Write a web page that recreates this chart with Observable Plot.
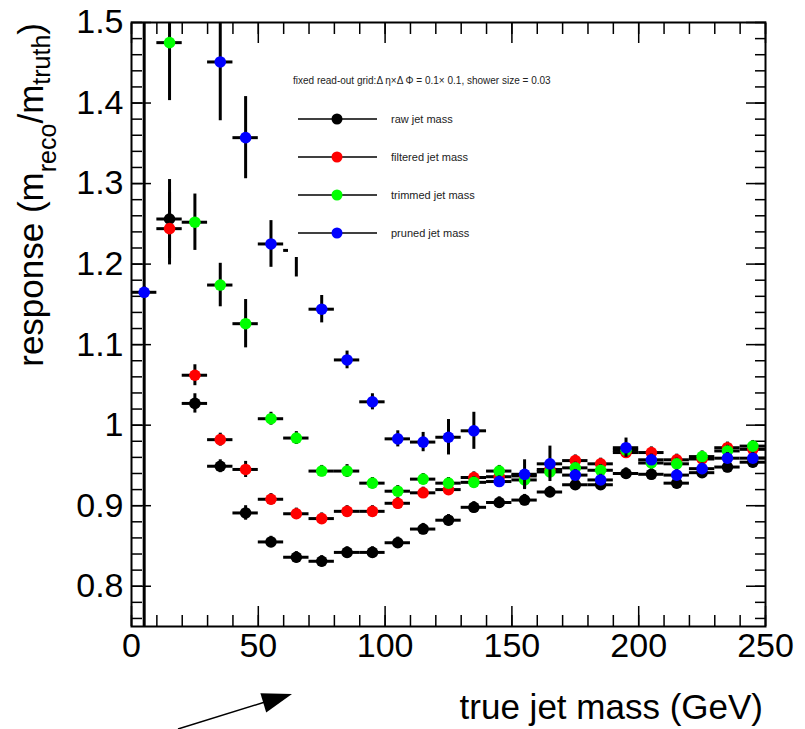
<!DOCTYPE html>
<html>
<head>
<meta charset="utf-8">
<script src="https://cdn.jsdelivr.net/npm/d3@7"></script>
<script src="https://cdn.jsdelivr.net/npm/@observablehq/plot@0.6"></script>
<style>
html, body { margin: 0; padding: 0; background: #fff; overflow: hidden; }
#wrap { position: relative; width: 805px; height: 729px; font-family: "Liberation Sans", Arial, Helvetica, sans-serif; }
#legend { position: absolute; left: 288px; top: 58px; background: #fff; }
#arrow { position: absolute; left: 0; top: 0; pointer-events: none; }
</style>
</head>
<body>
<div id="wrap"></div>
<script>
// ---------- data ----------
const masses = [5, 15, 25, 35, 45, 55, 65, 75, 85, 95, 105, 115, 125, 135, 145, 155, 165, 175, 185, 195, 205, 215, 225, 235, 245];
const binHalfWidth = 5;

const raw      = [1.62, 1.256, 1.027, 0.949, 0.891, 0.855, 0.836, 0.831, 0.842, 0.842, 0.854, 0.871, 0.882, 0.898, 0.904, 0.907, 0.917, 0.926, 0.926, 0.940, 0.939, 0.928, 0.941, 0.948, 0.954];
const rawErr   = [0.9, 0.049, 0.012, 0.008, 0.009, 0.007, 0.007, 0.007, 0.007, 0.007, 0.007, 0.007, 0.007, 0.007, 0.007, 0.007, 0.007, 0.007, 0.007, 0.007, 0.007, 0.007, 0.007, 0.007, 0.007];

const filtered    = [null, 1.244, 1.062, 0.982, 0.945, 0.908, 0.890, 0.884, 0.893, 0.893, 0.903, 0.916, 0.920, 0.935, 0.936, 0.937, 0.945, 0.956, 0.952, 0.966, 0.966, 0.957, 0.958, 0.972, 0.970];
const filteredErr = [null, 0.045, 0.013, 0.008, 0.010, 0.007, 0.007, 0.007, 0.007, 0.007, 0.007, 0.007, 0.007, 0.007, 0.007, 0.007, 0.007, 0.007, 0.007, 0.007, 0.007, 0.007, 0.007, 0.007, 0.007];

const trimmed    = [null, 1.475, 1.252, 1.174, 1.126, 1.008, 0.984, 0.943, 0.943, 0.928, 0.918, 0.933, 0.928, 0.929, 0.943, 0.932, 0.942, 0.947, 0.944, 0.969, 0.953, 0.952, 0.961, 0.968, 0.974];
const trimmedErr = [null, 0.072, 0.035, 0.027, 0.030, 0.008, 0.008, 0.007, 0.008, 0.007, 0.007, 0.007, 0.007, 0.007, 0.007, 0.012, 0.007, 0.007, 0.007, 0.007, 0.007, 0.007, 0.007, 0.007, 0.007];

const pruned    = [1.165, null, null, 1.451, 1.357, 1.225, 1.217, 1.144, 1.081, 1.029, 0.983, 0.979, 0.985, 0.993, 0.930, 0.939, 0.952, 0.938, 0.932, 0.972, 0.957, 0.938, 0.946, 0.959, 0.959];
const prunedErr = [0.007, null, null, 0.073, 0.051, 0.029, 0.033, 0.017, 0.011, 0.010, 0.010, 0.012, 0.022, 0.023, 0.007, 0.018, 0.022, 0.007, 0.007, 0.012, 0.007, 0.007, 0.007, 0.007, 0.007];

const seriesNames  = ["raw jet mass", "filtered jet mass", "trimmed jet mass", "pruned jet mass"];
const seriesColors = ["#000000", "#ff0000", "#00ff00", "#0000ff"];
const seriesValues = [raw, filtered, trimmed, pruned];
const seriesErrors = [rawErr, filteredErr, trimmedErr, prunedErr];

const xMajorTicks = [0, 50, 100, 150, 200, 250];
const xTickLabels = ["0", "50", "100", "150", "200", "250"];
const yMajorTicks = [0.8, 0.9, 1.0, 1.1, 1.2, 1.3, 1.4, 1.5];
const yTickLabels = ["0.8", "0.9", "1", "1.1", "1.2", "1.3", "1.4", "1.5"];
const xMinorTicks = d3.range(0, 251, 10);
const yMinorTicks = d3.range(76, 151, 2).map(d => d / 100);

const legendTitle = "fixed read-out grid:\u0394 \u03b7\u00d7\u0394 \u03a6 = 0.1\u00d7 0.1, shower size = 0.03";
const xTitle = "true jet mass (GeV)";

// ---------- build ----------
const fontFamily = '"Liberation Sans", Arial, Helvetica, sans-serif';
const tables = seriesNames.map((name, s) =>
  masses.map((m, i) => ({name, m, v: seriesValues[s][i], e: seriesErrors[s][i]}))
        .filter(d => d.v != null)
);

const marks = [
  // inward ticks (ROOT style)
  Plot.axisY({anchor: "left", ticks: yMinorTicks, tickSize: 11, dx: 11, tickFormat: () => "", label: null, strokeWidth: 1.5}),
  Plot.axisY({anchor: "left", ticks: yMajorTicks, tickSize: 20, dx: 20, tickFormat: () => "", label: null, strokeWidth: 1.5}),
  Plot.axisY({anchor: "right", ticks: yMinorTicks, tickSize: 11, dx: -11, tickFormat: () => "", label: null, strokeWidth: 1.5}),
  Plot.axisY({anchor: "right", ticks: yMajorTicks, tickSize: 20, dx: -20, tickFormat: () => "", label: null, strokeWidth: 1.5}),
  Plot.axisX({anchor: "bottom", ticks: xMinorTicks, tickSize: 11, dy: -11, tickFormat: () => "", label: null, strokeWidth: 1.5}),
  Plot.axisX({anchor: "bottom", ticks: xMajorTicks, tickSize: 20, dy: -20, tickFormat: () => "", label: null, strokeWidth: 1.5}),
  Plot.axisX({anchor: "top", ticks: xMinorTicks, tickSize: 11, dy: 11, tickFormat: () => "", label: null, strokeWidth: 1.5}),
  Plot.axisX({anchor: "top", ticks: xMajorTicks, tickSize: 20, dy: 20, tickFormat: () => "", label: null, strokeWidth: 1.5}),
  // tick labels
  Plot.axisY({anchor: "left", ticks: yMajorTicks, tickSize: 0, tickPadding: 8, fontSize: 34,
              tickFormat: d => yTickLabels[yMajorTicks.indexOf(d)], label: null}),
  Plot.axisX({anchor: "bottom", ticks: xMajorTicks, tickSize: 0, tickPadding: 6, fontSize: 34,
              tickFormat: d => xTickLabels[xMajorTicks.indexOf(d)], label: null}),
  Plot.frame({stroke: "black", strokeWidth: 2})
];

tables.forEach((data, s) => {
  marks.push(
    Plot.ruleX(data, {x: "m", y1: d => d.v - d.e, y2: d => d.v + d.e, stroke: "black", strokeWidth: 3, clip: true}),
    Plot.ruleY(data, {y: "v", x1: d => d.m - binHalfWidth, x2: d => d.m + binHalfWidth, stroke: "black", strokeWidth: 3, clip: true}),
    Plot.dot(data, {x: "m", y: "v", r: 5.8, fill: seriesColors[s], stroke: "none", clip: true})
  );
});

const chart = Plot.plot({
  width: 805,
  height: 729,
  marginLeft: 131,
  marginRight: 40,
  marginTop: 22,
  marginBottom: 103,
  style: {fontFamily, background: "white", color: "black", overflow: "visible"},
  x: {domain: [0, 250]},
  y: {domain: [0.75, 1.5]},
  marks
});

const wrap = document.getElementById("wrap");
wrap.appendChild(chart);

// axis titles
const svg = d3.select(chart);
svg.append("text")
  .attr("x", 763).attr("y", 719)
  .attr("text-anchor", "end")
  .attr("font-size", 35)
  .attr("font-family", fontFamily)
  .attr("fill", "black")
  .text(xTitle);

const yt = svg.append("text")
  .attr("transform", "translate(43,23) rotate(-90)")
  .attr("text-anchor", "end")
  .attr("font-size", 35)
  .attr("font-family", fontFamily)
  .attr("fill", "black");
yt.append("tspan").text("response (m");
yt.append("tspan").attr("font-size", 25).attr("dy", 13).text("reco");
yt.append("tspan").attr("dy", -13).text("/m");
yt.append("tspan").attr("font-size", 25).attr("dy", 7).text("truth");
yt.append("tspan").attr("dy", -7).text(")");

// legend
const lg = d3.select(wrap).append("div").attr("id", "legend")
  .append("svg").attr("width", 317).attr("height", 199)
  .style("display", "block").style("background", "#fff");
lg.append("text")
  .attr("x", 5).attr("y", 26)
  .attr("font-size", 10).attr("font-family", fontFamily).attr("fill", "#222")
  .text(legendTitle);
seriesNames.forEach((name, i) => {
  const cy = 61 + i * 38;
  lg.append("line").attr("x1", 10).attr("x2", 89).attr("y1", cy).attr("y2", cy)
    .attr("stroke", "black").attr("stroke-width", 1.5);
  lg.append("circle").attr("cx", 49).attr("cy", cy).attr("r", 5.5).attr("fill", seriesColors[i]);
  lg.append("text").attr("x", 103).attr("y", cy).attr("dy", "0.35em")
    .attr("font-size", 11).attr("font-family", fontFamily).attr("fill", "#222")
    .text(name);
});

// annotation arrow
const ar = d3.select(wrap).append("svg").attr("id", "arrow").attr("width", 805).attr("height", 729);
ar.append("line").attr("x1", 178).attr("y1", 729).attr("x2", 265).attr("y2", 702)
  .attr("stroke", "black").attr("stroke-width", 1.5);
ar.append("polygon").attr("points", "292,694 266.2,712.4 260.4,693.2").attr("fill", "black");
</script>
</body>
</html>
